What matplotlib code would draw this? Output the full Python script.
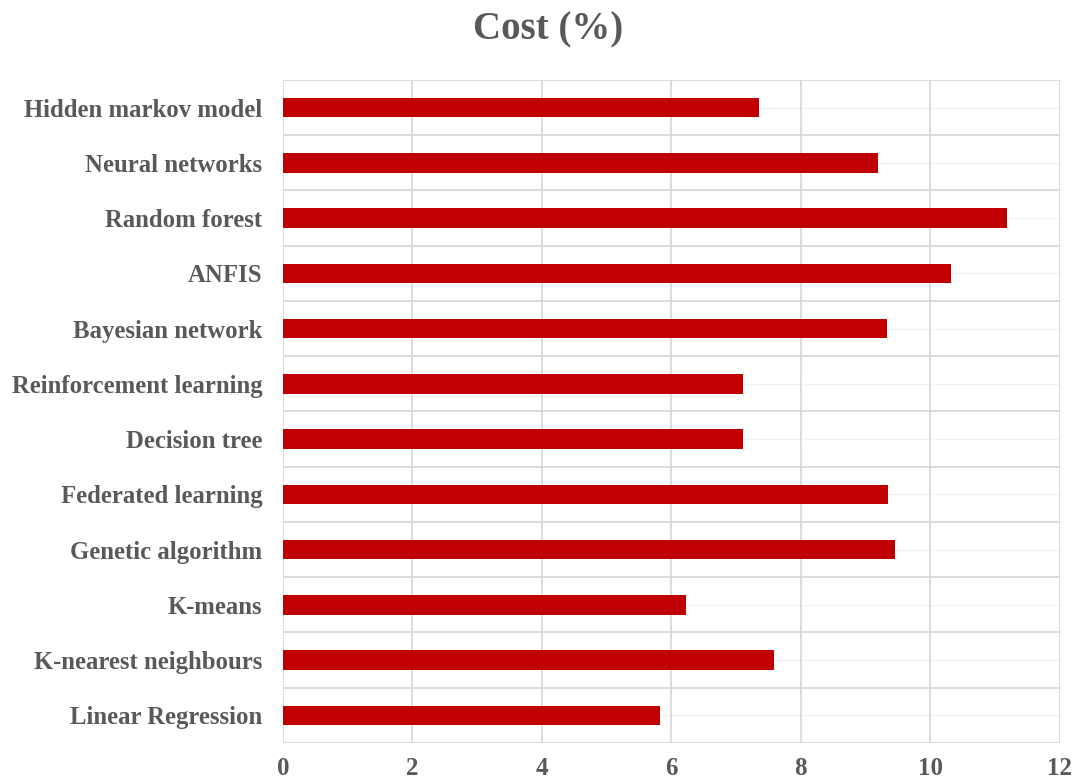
import numpy as np
import matplotlib
matplotlib.use("Agg")
import matplotlib.pyplot as plt

# cost per method, listed bottom to top
methods = ["Linear Regression", "K-nearest neighbours", "K-means",
           "Genetic algorithm", "Federated learning", "Decision tree",
           "Reinforcement learning", "Bayesian network", "ANFIS",
           "Random forest", "Neural networks", "Hidden markov model"]
cost = [5.83, 7.58, 6.23, 9.46, 9.34, 7.10, 7.10, 9.33, 10.32, 11.19, 9.19, 7.35]
xticks = [0, 2, 4, 6, 8, 10, 12]

bar_color = "#C00000"
text_color = "#595959"
grid_color = "#D9D9D9"

plt.rcParams['font.family'] = ['Liberation Serif', 'DejaVu Serif']

fig = plt.figure(figsize=(10.76, 7.84), dpi=100)
ax = fig.add_axes([0.263, 0.0523, 0.722, 0.8457])

ind = np.arange(len(methods))
ax.barh(ind, cost, height=0.35, color=bar_color, zorder=3)

ax.set_xlim(0, 12)
ax.set_ylim(-0.5, len(methods) - 0.5)
ax.set_xticks(xticks)
ax.set_xticklabels([str(t) for t in xticks])
ax.set_yticks(ind)
ax.set_yticklabels(methods)

# category separators and faint centre lines
for y in np.arange(-0.5, len(methods)):
    ax.axhline(y, color=grid_color, lw=1.3, zorder=1)
for y in ind:
    ax.axhline(y, color="#F2F2F2", lw=1.0, zorder=1)
for x in xticks:
    ax.axvline(x, color=grid_color, lw=1.3, zorder=1)

for s in ax.spines.values():
    s.set_visible(False)
ax.tick_params(axis='both', which='both', length=0)
ax.tick_params(axis='y', pad=15)
ax.tick_params(axis='x', pad=10)

for lbl in ax.get_yticklabels():
    lbl.set_fontsize(17.8)
    lbl.set_fontweight('bold')
    lbl.set_color(text_color)
for lbl in ax.get_xticklabels():
    lbl.set_fontsize(18)
    lbl.set_fontweight('bold')
    lbl.set_color(text_color)

fig.text(0.509, 0.962, "Cost (%)", ha='center', va='center',
         fontsize=28, fontweight='bold', color=text_color)

fig.savefig("out.png", dpi=100, facecolor="white")
